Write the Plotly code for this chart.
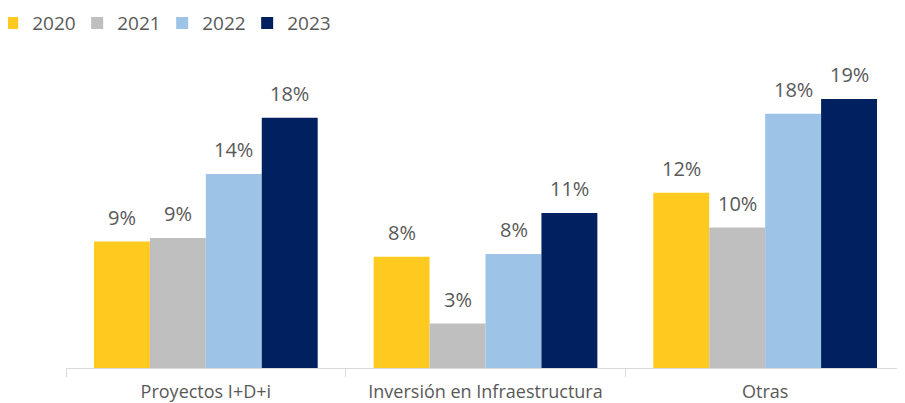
import plotly.graph_objects as go

categories = ["Proyectos I+D+i", "Inversión en Infraestructura", "Otras"]
years = ["2020", "2021", "2022", "2023"]
values = {
    "2020": [9.1, 8.0, 12.6],
    "2021": [9.35, 3.2, 10.1],
    "2022": [13.95, 8.2, 18.3],
    "2023": [18.0, 11.15, 19.35],
}
labels = {
    "2020": ["9%", "8%", "12%"],
    "2021": ["9%", "3%", "10%"],
    "2022": ["14%", "8%", "18%"],
    "2023": ["18%", "11%", "19%"],
}
colors = {"2020": "#FFCA1F", "2021": "#BFBFBF", "2022": "#9DC3E6", "2023": "#002060"}

font_family = "Open Sans, Noto Sans, sans-serif"
text_color = "#595959"

fig = go.Figure()
for y in years:
    fig.add_trace(go.Bar(
        name=y, x=categories, y=values[y],
        marker=dict(color=colors[y], line=dict(width=0)),
    ))

# value labels as annotations positioned via data coordinates
bar_px = 56
offsets = [-1.5 * bar_px, -0.5 * bar_px, 0.5 * bar_px, 1.5 * bar_px]
for i, y in enumerate(years):
    for c, v, t in zip(categories, values[y], labels[y]):
        fig.add_annotation(x=c, y=v, text=t, showarrow=False, xref="x", yref="y",
                           xshift=offsets[i], yanchor="bottom", yshift=9,
                           font=dict(size=20, color=text_color, family=font_family))

fig.update_layout(
    width=897, height=395,
    margin=dict(l=58, r=0, t=82, b=35, autoexpand=False),
    barmode="group", bargap=0.2, bargroupgap=0,
    plot_bgcolor="white", paper_bgcolor="white",
    font=dict(family=font_family, color=text_color, size=18),
    showlegend=True,
    legend=dict(orientation="h", x=-0.088, y=1.309, xref="paper", yref="paper",
                xanchor="left", yanchor="top",
                font=dict(size=19, color=text_color, family=font_family),
                itemwidth=30, entrywidth=40, entrywidthmode="pixels", tracegroupgap=0),
    xaxis=dict(showline=True, linecolor="#D9D9D9", linewidth=1, automargin=False,
               ticks="outside", tickson="boundaries", ticklen=8, tickcolor="#D9D9D9",
               ticklabelstandoff=7,
               tickfont=dict(size=18, color=text_color, family=font_family)),
    yaxis=dict(range=[0, 20], visible=False, showgrid=False, automargin=False),
)
fig.write_html("out.html")
